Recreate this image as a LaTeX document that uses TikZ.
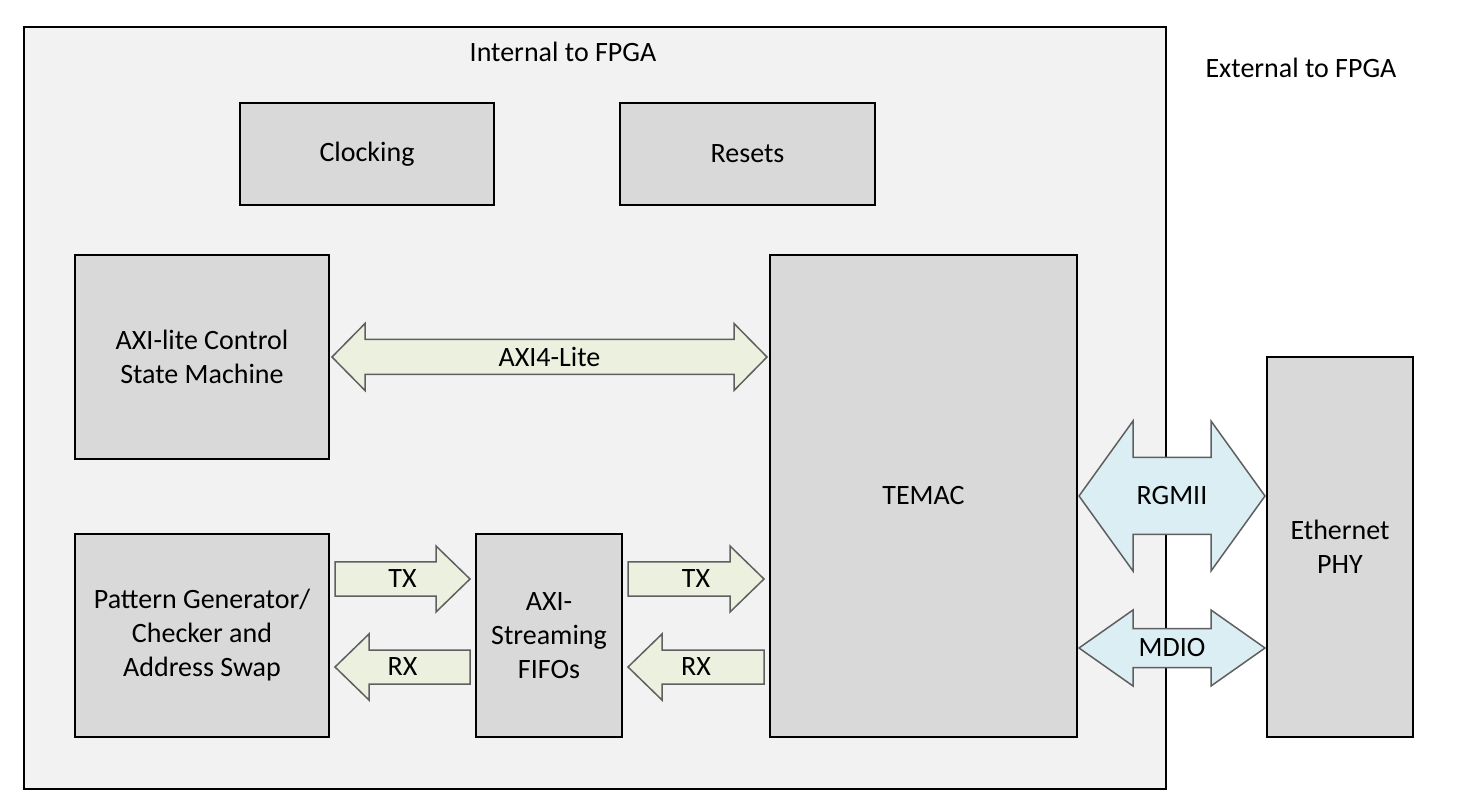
\documentclass[tikz,border=0pt]{standalone}
\usepackage{fontspec}
\setmainfont{Carlito}
\usetikzlibrary{positioning,calc}

\definecolor{fpgafill}{HTML}{F2F2F2}
\definecolor{blockfill}{HTML}{D9D9D9}
\definecolor{greenfill}{HTML}{EBF1DE}
\definecolor{bluefill}{HTML}{DAEEF3}
\definecolor{arrowgray}{HTML}{5F5F5F}

\tikzset{
  fat head/.store in=\fathead, fat shaft/.store in=\fatshaft,
  fat tip/.store in=\fattip, fat gap/.store in=\fatgap,
  fat head=16.5pt, fat shaft=8.5pt, fat tip=17pt, fat gap=3pt,
  fat line/.style={draw=arrowgray,line width=0.75pt},
  % one-headed wide arrow, tip at the target
  single fat/.style={fat line,to path={
      let \p1=(\tikztostart), \p2=(\tikztotarget), \n1={sign(\x2-\x1)} in
      ({\x1+(\n1)*\fatgap},{\y1+\fatshaft})
      -- ({\x2-(\n1)*(\fatgap+\fattip)},{\y1+\fatshaft})
      -- ({\x2-(\n1)*(\fatgap+\fattip)},{\y1+\fathead})
      -- ({\x2-(\n1)*\fatgap},\y1)
      -- ({\x2-(\n1)*(\fatgap+\fattip)},{\y1-\fathead})
      -- ({\x2-(\n1)*(\fatgap+\fattip)},{\y1-\fatshaft})
      -- ({\x1+(\n1)*\fatgap},{\y1-\fatshaft}) -- cycle
      ({(\x1+\x2)/2},\y1) node {#1}}},
  % two-headed wide arrow
  double fat/.style={fat line,to path={
      let \p1=(\tikztostart), \p2=(\tikztotarget), \n1={sign(\x2-\x1)} in
      ({\x1+(\n1)*\fatgap},\y1)
      -- ({\x1+(\n1)*(\fatgap+\fattip)},{\y1+\fathead})
      -- ({\x1+(\n1)*(\fatgap+\fattip)},{\y1+\fatshaft})
      -- ({\x2-(\n1)*(\fatgap+\fattip)},{\y1+\fatshaft})
      -- ({\x2-(\n1)*(\fatgap+\fattip)},{\y1+\fathead})
      -- ({\x2-(\n1)*\fatgap},\y1)
      -- ({\x2-(\n1)*(\fatgap+\fattip)},{\y1-\fathead})
      -- ({\x2-(\n1)*(\fatgap+\fattip)},{\y1-\fatshaft})
      -- ({\x1+(\n1)*(\fatgap+\fattip)},{\y1-\fatshaft})
      -- ({\x1+(\n1)*(\fatgap+\fattip)},{\y1-\fathead}) -- cycle
      ({(\x1+\x2)/2},\y1) node {#1}}},
}

\begin{document}
\begin{tikzpicture}[x=0.5pt,y=-0.5pt,
    font=\fontsize{14}{17}\selectfont,
    block/.style={rectangle,draw,line width=1.2pt,fill=blockfill,align=center,inner sep=0pt,outer sep=0pt}]

  \useasboundingbox (0,0) rectangle (1477,801);

  % FPGA boundary
  \node[draw,line width=1.2pt,fill=fpgafill,minimum width=571pt,minimum height=381pt] (fpga) at (595,408) {};
  \node (inlabel) at (563,52) {Internal to FPGA};
  \node (exlabel) at (1301,68) {External to FPGA};

  \node[block,minimum width=127pt,minimum height=51pt] (clk) at (367,154) {Clocking};
  \node[block,minimum width=127.5pt,minimum height=51pt] (rst) at (747.5,154) {Resets};
  \node[block,minimum width=127pt,minimum height=102pt] (axi) at (202,357) {AXI-lite Control\\State Machine};
  \node[block,minimum width=127pt,minimum height=101.5pt] (pg) [below=37.5pt of axi] {Pattern Generator/\\Checker and\\Address Swap};
  \node[block,minimum width=73pt,minimum height=101.5pt] (fifo) [right=73.5pt of pg] {AXI-\\Streaming\\FIFOs};
  \node[block,minimum width=153.5pt,minimum height=241pt] (temac) at (923.5,496) {TEMAC};
  \node[block,minimum width=73pt,minimum height=190pt] (phy) at (1340,547) {Ethernet\\PHY};

  % wide arrows
  \draw[double fat=AXI4-Lite,fill=greenfill,fat gap=1.5pt,fat head=16.75pt,fat shaft=8.75pt,fat tip=16.5pt]
    (axi.east) to (temac.west |- axi.east);
  \draw[single fat=TX,fill=greenfill] (pg.east |- 0,579) to (fifo.west |- 0,579);
  \draw[single fat=RX,fill=greenfill] (fifo.west |- 0,667) to (pg.east |- 0,667);
  \draw[single fat=TX,fill=greenfill] (fifo.east |- 0,579) to (temac.west |- 0,579);
  \draw[single fat=RX,fill=greenfill] (temac.west |- 0,667) to (fifo.east |- 0,667);
  \draw[double fat=RGMII,fill=bluefill,fat gap=1pt,fat head=37.5pt,fat shaft=19.25pt,fat tip=27pt]
    (temac.east) to (phy.west |- temac.east);
  \draw[double fat=MDIO,fill=bluefill,fat gap=1pt,fat head=19pt,fat shaft=9.75pt,fat tip=27pt]
    (temac.east |- 0,648) to (phy.west |- 0,648);
\end{tikzpicture}
\end{document}
